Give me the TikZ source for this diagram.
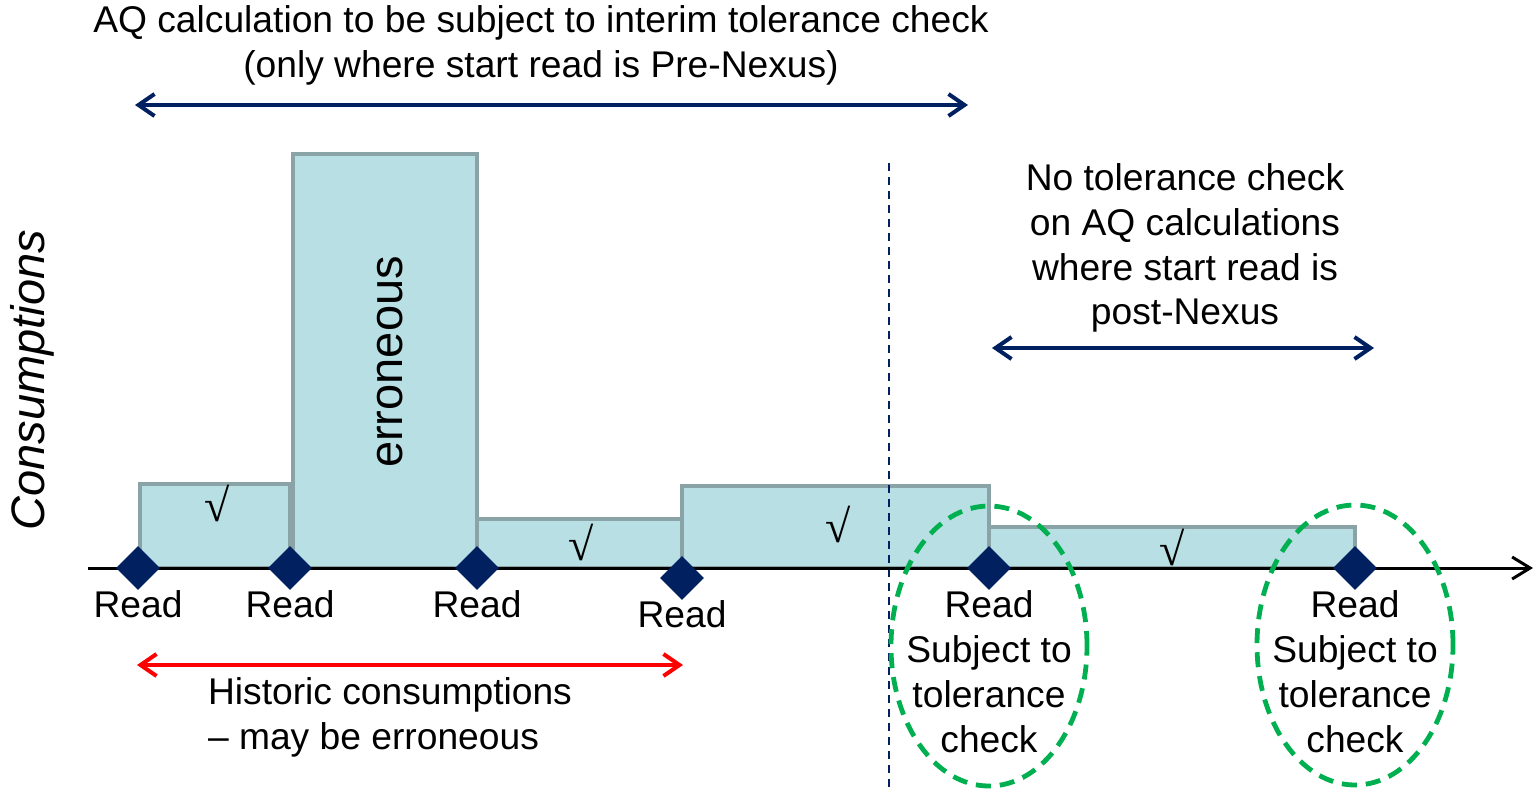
\documentclass[tikz,border=0pt]{standalone}
\usepackage{fontspec}
\setmainfont{Liberation Sans}
\newfontfamily\serifcheck{Liberation Serif}
\usetikzlibrary{positioning, arrows.meta, shapes.geometric}

\definecolor{navy}{HTML}{002060}
\definecolor{barfill}{HTML}{B8DFE3}
\definecolor{barline}{HTML}{8AA3A6}
\definecolor{ringgreen}{HTML}{00B050}

\begin{document}
\begin{tikzpicture}[x=0.5pt, y=-0.5pt, font=\fontsize{18.6}{22.4}\selectfont,
  bar/.style={draw=barline, fill=barfill, line width=2pt},
  readpt/.style={diamond, fill=navy, inner sep=0pt, minimum size=22pt},
  readlabel/.style={inner sep=0pt, align=center},
  tick/.style={font=\serifcheck\fontsize{23}{23}\selectfont},
  span/.style={<->, >={Straight Barb[length=8pt, width=11pt]}, line width=2pt},
  checkring/.style={ellipse, draw=ringgreen, line width=2.4pt, dash pattern=on 7.5pt off 4.5pt, minimum width=98pt, minimum height=140pt}]
  \useasboundingbox (0,0) rectangle (1535,792);

  % read positions
  \coordinate (p1) at (138,568);
  \coordinate (p2) at (290,568);
  \coordinate (p3) at (477,568);
  \coordinate (p4) at (682,578);
  \coordinate (p5) at (989,568);
  \coordinate (p6) at (1355,568);

  % consumption bars
  \draw[bar] (140,484) rectangle (p2);
  \draw[bar] (293,154) rectangle (p3);
  \draw[bar] (p3 |- 0,519) rectangle (p4 |- p3);
  \draw[bar] (p4 |- 0,486) rectangle (p5);
  \draw[bar] (p5 |- 0,527) rectangle (p6);

  \node[tick] at (217,503) {√};
  \node[tick] at (581,542) {√};
  \node[tick] at (838,524) {√};
  \node[tick] at (1172,547) {√};
  \node[rotate=90, font=\fontsize{23.5}{24}\selectfont] (err) at (390,362) {erroneous};

  % nexus cut-over
  \coordinate (cuttop) at (889,163);
  \coordinate (cutbot) at (889,787);
  \draw[navy, line width=1pt, dash pattern=on 4pt off 3pt] (cuttop) -- (cutbot);

  % time axis
  \coordinate (axstart) at (88,568);
  \coordinate (axend) at (1533,568);
  \draw[-{Straight Barb[length=9pt, width=11pt]}, line width=1.5pt] (axstart) -- (axend);
  \node[rotate=90, font=\itshape\fontsize{23.5}{24}\selectfont] (yaxis) at (32,380) {Consumptions};

  % reads
  \foreach \i in {1,...,6}
    \node[readpt] (r\i) at (p\i) {};
  \node[readlabel, below=0pt of r1] (l1) {Read};
  \node[readlabel, below=0pt of r2] (l2) {Read};
  \node[readlabel, below=0pt of r3] (l3) {Read};
  \node[readlabel, below=0pt of r4] (l4) {Read};
  \node[readlabel, below=0pt of r5] (l5) {Read\\Subject to\\tolerance\\check};
  \node[readlabel, below=0pt of r6] (l6) {Read\\Subject to\\tolerance\\check};
  \node[checkring] (ring5) at (989,646) {};
  \node[checkring] (ring6) at (1355,645) {};

  % spans
  \coordinate (aqL) at (135,105);
  \coordinate (aqR) at (968,105);
  \draw[span, navy] (aqL) -- (aqR);
  \node[align=center] (aqtext) at (541,45) {AQ calculation to be subject to interim tolerance check\\(only where start read is Pre-Nexus)};

  \coordinate (noL) at (992,348);
  \coordinate (noR) at (1374,348);
  \draw[span, navy] (noL) -- (noR);
  \node[align=center] (notext) at (1185,248) {No tolerance check\\on AQ calculations\\where start read is\\post-Nexus};

  \coordinate (hiL) at (137,665);
  \coordinate (hiR) at (683,665);
  \draw[span, red] (hiL) -- (hiR);
  \node[align=left, anchor=west] (histtext) at (201,717) {Historic consumptions\\– may be erroneous};
\end{tikzpicture}
\end{document}
